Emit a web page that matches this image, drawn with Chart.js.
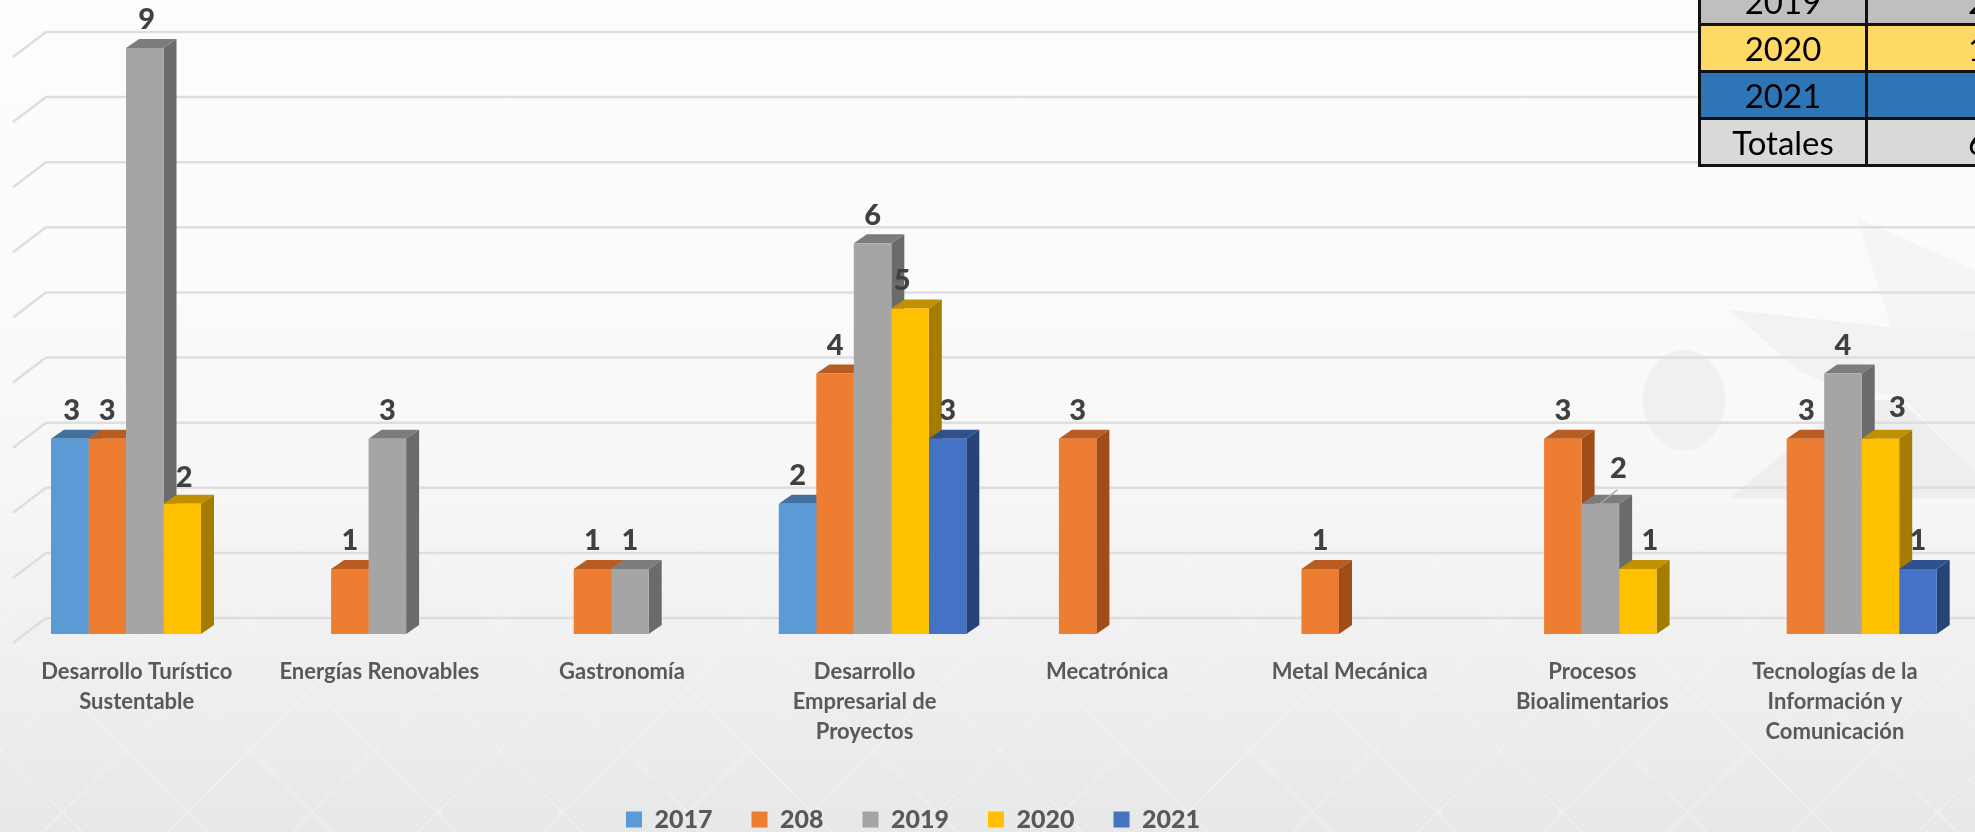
<!DOCTYPE html>
<html lang="es">
<head>
<meta charset="utf-8">
<title>Titulados por programa</title>
<script src="https://cdn.jsdelivr.net/npm/chart.js@4/dist/chart.umd.min.js"></script>
<style>
  html,body{margin:0;padding:0;width:1975px;height:832px;overflow:hidden;
    background:linear-gradient(180deg,#fdfdfd 0%,#fbfbfb 35%,#f6f6f7 60%,#f0f0f1 78%,#e8e8e9 100%);}
  #wrap{position:relative;width:1975px;height:832px;overflow:hidden;}
  #bg{position:absolute;left:0;top:0;}
  canvas{position:absolute;left:0;top:0;}
  #tbl{position:absolute;left:1698px;top:-24px;width:420px;border-collapse:collapse;table-layout:fixed;
    font-family:Lato,sans-serif;font-size:33px;color:#000;}
  #tbl td{border:3px solid #111;height:44px;padding:0;text-align:center;line-height:44px;overflow:hidden;}
  #tbl td:first-child{width:164px;}
  #tbl td:last-child{text-align:left;padding-left:100px;}
</style>
</head>
<body>
<div id="wrap">
<svg id="bg" width="1975" height="832" xmlns="http://www.w3.org/2000/svg">
  <defs>
    <pattern id="lat" width="125" height="125" patternUnits="userSpaceOnUse">
      <path d="M0 0L125 125M125 0L0 125" stroke="#ffffff" stroke-width="2" opacity=".28" fill="none"/>
    </pattern>
    <linearGradient id="fade" x1="0" y1="0" x2="0" y2="1">
      <stop offset="0" stop-color="#fff" stop-opacity="0"/>
      <stop offset=".55" stop-color="#fff" stop-opacity=".3"/>
      <stop offset="1" stop-color="#fff" stop-opacity="1"/>
    </linearGradient>
    <mask id="m"><rect width="1975" height="832" fill="url(#fade)"/></mask>
  </defs>
  <rect width="1975" height="832" fill="url(#lat)" mask="url(#m)"/>
  <ellipse cx="1684" cy="400" rx="41" ry="50" fill="#f0f0f1"/>
  <polygon points="1857,218 1975,270 1975,420 1892,330" fill="#f5f5f6"/>
  <polygon points="1730,310 1890,327 1975,330 1975,470 1900,395 1850,392 1800,372" fill="#f2f2f3"/>
  <polygon points="1730,498 1800,440 1850,400 1900,400 1975,470 1975,498" fill="#eeeeef"/>
</svg>
<canvas id="c" width="1975" height="832"></canvas>
<table id="tbl"></table>
</div>
<script>
const categories = [
  ["Desarrollo Turístico","Sustentable"],
  ["Energías Renovables"],
  ["Gastronomía"],
  ["Desarrollo","Empresarial de","Proyectos"],
  ["Mecatrónica"],
  ["Metal Mecánica"],
  ["Procesos","Bioalimentarios"],
  ["Tecnologías de la","Información y","Comunicación"]
];
const series2017 = [3,null,null,2,null,null,null,null];
const series208  = [3,1,1,4,3,1,3,3];
const series2019 = [9,3,1,6,null,null,2,4];
const series2020 = [2,null,null,5,null,null,1,3];
const series2021 = [null,null,null,3,null,null,null,1];
const seriesNames = ["2017","208","2019","2020","2021"];
const frontColors = ["#5B9BD5","#ED7D31","#A5A5A5","#FFC000","#4472C4"];
const topColors   = ["#41719C","#B85C22","#7C7C7C","#BF9000","#2F528F"];
const sideColors  = ["#3A6A94","#A04E19","#6B6B6B","#A67C00","#264478"];
const tableYears  = ["2019","2020","2021","Totales"];
const tableFirst  = ["2","1","","6"];
const tableFills  = ["#BFBFBF","#FFD966","#2E75B6","#D9D9D9"];

// hand-placed data labels in the original: [dataset, category, dx, dy, leader]
const labelNudges = [
  [0,0,2,0],[2,0,2,0],[3,0,2,2],[3,3,-8,0],[2,6,18,-7,true],[3,6,12,0],[3,7,17,-3],[1,7,1,0]
];
const DX = 13, DY = 9, BACK_Y = 16, FLOOR_DX = 33, FLOOR_DY = 25, GRID_X = 46;

const tbl = document.getElementById('tbl');
tableYears.forEach((y,i)=>{
  const tr = document.createElement('tr');
  const a = document.createElement('td'); a.textContent = y;
  const b = document.createElement('td'); b.textContent = tableFirst[i];
  a.style.background = b.style.background = tableFills[i];
  tr.append(a,b); tbl.append(tr);
});

const grid3d = {
  id:'grid3d',
  beforeDatasetsDraw(chart){
    const {ctx,scales:{y}} = chart;
    ctx.save();
    ctx.strokeStyle = '#DEDEDE'; ctx.lineWidth = 2.5;
    y.ticks.forEach(t=>{
      const py = y.getPixelForValue(t.value) - BACK_Y;
      ctx.beginPath();
      ctx.moveTo(GRID_X-FLOOR_DX, py+FLOOR_DY);
      ctx.lineTo(GRID_X, py);
      ctx.lineTo(chart.width, py);
      ctx.stroke();
    });
    ctx.restore();
  }
};
const faces3d = {
  id:'faces3d',
  beforeDatasetsDraw(chart){
    const {ctx} = chart;
    ctx.save();
    categories.forEach((_,i)=>{
      chart.data.datasets.forEach((ds,d)=>{
        if (ds.data[i]==null) return;
        const b = chart.getDatasetMeta(d).data[i];
        const x0=b.x-b.width/2, x1=b.x+b.width/2, top=b.y, base=b.base;
        ctx.fillStyle = topColors[d];
        ctx.beginPath();
        ctx.moveTo(x0,top);ctx.lineTo(x0+DX,top-DY);ctx.lineTo(x1+DX,top-DY);ctx.lineTo(x1,top);
        ctx.closePath();ctx.fill();
        ctx.fillStyle = sideColors[d];
        ctx.beginPath();
        ctx.moveTo(x1,top);ctx.lineTo(x1+DX,top-DY);ctx.lineTo(x1+DX,base-DY);ctx.lineTo(x1,base);
        ctx.closePath();ctx.fill();
      });
    });
    ctx.restore();
  }
};
const valueLabels = {
  id:'valueLabels',
  afterDatasetsDraw(chart){
    const {ctx} = chart;
    ctx.save();
    ctx.font = '900 29px Lato, sans-serif';
    ctx.fillStyle = '#404040';
    ctx.textAlign='center'; ctx.textBaseline='middle';
    chart.data.datasets.forEach((ds,d)=>{
      chart.getDatasetMeta(d).data.forEach((b,i)=>{
        if (ds.data[i]==null) return;
        const n = labelNudges.find(k=>k[0]===d&&k[1]===i) || [d,i,0,0];
        const lx=b.x+n[2], ly=b.y-28+n[3];
        ctx.fillText(String(ds.data[i]),lx,ly);
        if(n[4]){
          ctx.save();ctx.strokeStyle='#A6A6A6';ctx.lineWidth=1.5;
          ctx.beginPath();ctx.moveTo(b.x,b.y);ctx.lineTo(lx-1,ly+21);ctx.stroke();ctx.restore();
        }
      });
    });
    ctx.restore();
  }
};
const legendPlace = {
  id:'legendPlace',
  afterLayout(chart){
    const l = chart.legend, pad = l.options.labels.padding;
    const h = l.bottom-l.top;
    l.left = 626-pad; l.right = l.left+1500;
    l.top = 822-pad-15; l.bottom = l.top+h;
  }
};

new Chart(document.getElementById('c'),{
  type:'bar',
  data:{
    labels:categories,
    datasets:[series2017,series208,series2019,series2020,series2021].map((d,i)=>({
      label:seriesNames[i],data:d,backgroundColor:frontColors[i],
      barPercentage:1,categoryPercentage:0.773,borderWidth:0
    }))
  },
  options:{
    responsive:false,animation:false,devicePixelRatio:1,
    layout:{padding:{left:23.45,right:10.75,top:48,bottom:0}},
    scales:{
      x:{
        grid:{display:false},border:{display:false},
        afterFit(s){s.height=124;},
        ticks:{autoSkip:false,maxRotation:0,minRotation:0,labelOffset:-8,padding:15,
          color:'#595959',font:{family:'Lato, sans-serif',size:22,weight:'bold',lineHeight:1.36}}
      },
      y:{display:false,min:0,max:9,ticks:{stepSize:1}}
    },
    plugins:{
      title:{display:false},tooltip:{enabled:false},
      legend:{display:true,position:'bottom',align:'start',
        labels:{boxWidth:16,boxHeight:16,padding:39,color:'#595959',
          font:{family:'Lato, sans-serif',size:25,weight:'900'}}}
    }
  },
  plugins:[grid3d,faces3d,valueLabels,legendPlace]
});
</script>
</body>
</html>
